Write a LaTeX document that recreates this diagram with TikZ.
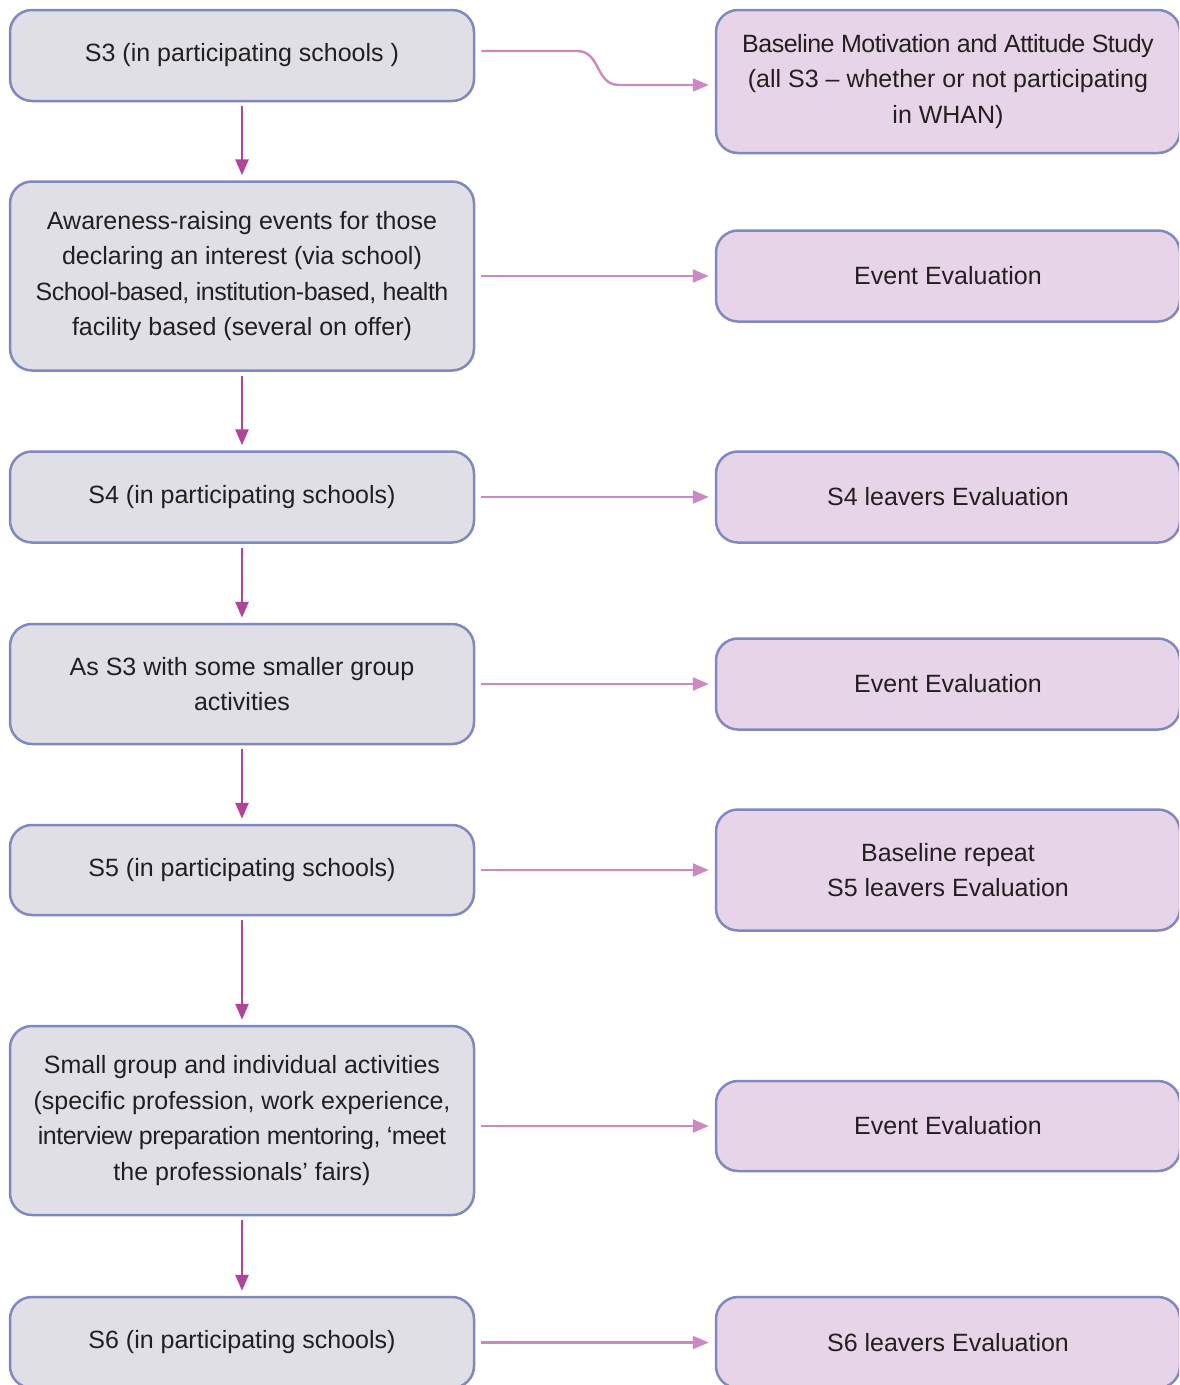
\documentclass[tikz,border=0pt]{standalone}
\usepackage{fontspec}
\setmainfont{Liberation Sans}
\usepackage{tikz}
\usetikzlibrary{arrows.meta,positioning,shapes}
\definecolor{stageFill}{HTML}{E0DFE6}
\definecolor{evalFill}{HTML}{E8D4E8}
\definecolor{boxLine}{HTML}{8088C0}
\definecolor{downLine}{HTML}{B0449A}
\definecolor{sideLine}{HTML}{CC88C0}
\definecolor{ink}{HTML}{231F20}
\newcommand{\tightline}[1]{{\addfontfeature{LetterSpace=-2}#1}}
\tikzset{
  stage/.style = {draw=boxLine, fill=stageFill, line width=2.5pt, rounded corners=22pt,
    minimum width=464pt, align=center, text=ink, inner sep=4pt,
    font=\fontsize{25}{35.5}\selectfont},
  evalbox/.style = {stage, fill=evalFill},
  down/.style = {draw=downLine, line width=2.8pt, shorten <=4pt, shorten >=5pt,
    -{Triangle[length=16pt, width=13pt]}},
  side/.style = {draw=sideLine, line width=2.4pt, shorten <=6pt, shorten >=6pt,
    -{Triangle[length=16pt, width=13pt]}}
}

\begin{document}
\begin{tikzpicture}[x = 1pt, y = -1pt]
\clip (0, 0) rectangle (1179, 1385);
\fill[white] (0, 0) rectangle (1179, 1385);

% school years
\node[stage, minimum height=91pt] (S3) at (242, 55.5) {S3 (in participating schools )};
\node[stage, minimum height=189pt] (aware) at (242, 276) {Awareness-raising events for those\\declaring an interest (via school)\\\tightline{School-based, institution-based, health}\\facility based (several on offer)};
\node[stage, minimum height=91pt] (S4) at (242, 497) {S4 (in participating schools)};
\node[stage, minimum height=120pt] (asS3) at (242, 684) {As S3 with some smaller group\\activities};
\node[stage, minimum height=90pt] (S5) at (242, 870) {S5 (in participating schools)};
\node[stage, minimum height=189pt] (small) at (242, 1120.5) {Small group and individual activities\\(specific profession, work experience,\\\tightline{interview preparation mentoring, `meet}\\the professionals' fairs)};
\node[stage, minimum height=91pt] (S6) at (242, 1342.5) {S6 (in participating schools)};

% evaluations
\node[evalbox, minimum height=143pt] (base) at (948, 81.5) {\tightline{Baseline Motivation and Attitude Study}\\(all S3 -- whether or not participating\\in WHAN)};
\node[evalbox, minimum height=91pt] (evA) at (948, 276) {Event Evaluation};
\node[evalbox, minimum height=91pt] (S4ev) at (948, 497) {S4 leavers Evaluation};
\node[evalbox, minimum height=91pt] (evB) at (948, 684) {Event Evaluation};
\node[evalbox, minimum height=121pt] (S5ev) at (948, 870) {Baseline repeat\\S5 leavers Evaluation};
\node[evalbox, minimum height=90pt] (evC) at (948, 1126) {Event Evaluation};
\node[evalbox, minimum height=91pt] (S6ev) at (948, 1342.5) {S6 leavers Evaluation};

\coordinate (bendA) at (577, 51);
\coordinate (bendB) at (619, 85);

\draw[down] (S3) -- (aware);
\draw[down] (aware) -- (S4);
\draw[down] (S4) -- (asS3);
\draw[down] (asS3) -- (S5);
\draw[down] (S5) -- (small);
\draw[down] (small) -- (S6);

\draw[side] (S3.east |- bendA) -- (bendA) .. controls (601, 51) and (595, 85) .. (bendB) -- (base.west |- bendB);
\draw[side] (aware) -- (evA);
\draw[side] (S4) -- (S4ev);
\draw[side] (asS3) -- (evB);
\draw[side] (S5) -- (S5ev);
\draw[side] (small.east |- evC.west) -- (evC);
\draw[side] (S6) -- (S6ev);

\end{tikzpicture}
\end{document}
